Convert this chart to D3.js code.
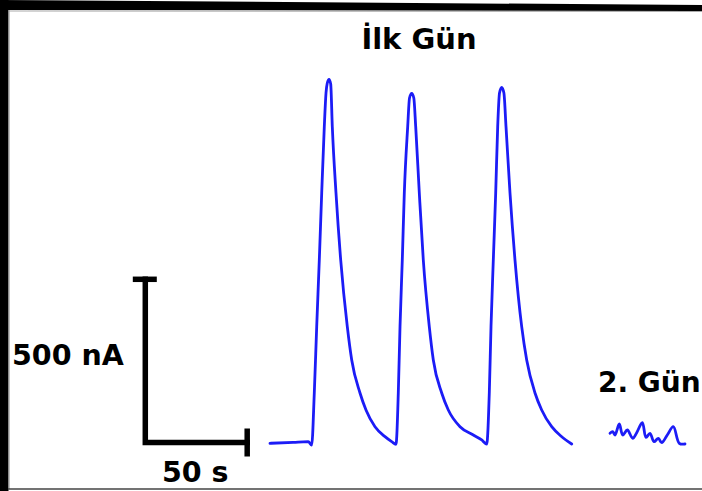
<!DOCTYPE html>
<html>
<head>
<meta charset="utf-8">
<script src="https://cdn.jsdelivr.net/npm/d3@7"></script>
<style>
  html, body { margin: 0; padding: 0; background: #fff; }
  svg { display: block; }
  text { font-family: "DejaVu Sans", sans-serif; font-weight: bold; fill: #000; }
</style>
</head>
<body>
<svg id="chart" width="702" height="491"></svg>
<script>
// Recording on day one: time (s) and current (nA)
const day1Time = [61.19, 72.62, 79.98, 81.65, 82.92, 84.10, 85.38, 86.56, 87.83, 88.67, 89.30, 90.14, 90.97,
  91.76, 93.57, 95.88, 99.12, 101.28, 105.35, 108.29, 112.71, 117.62, 120.90, 123.01,
  124.14, 124.98, 126.10, 127.09, 128.75, 129.64, 130.72, 131.75, 132.68, 134.45, 136.41, 139.35, 141.32,
  145.44, 148.68, 154.42, 160.94, 165.06, 167.52,
  168.79, 169.63, 170.76, 171.93, 172.91, 173.80, 174.88, 175.96, 176.99, 178.95, 181.40, 184.69, 187.14,
  191.22, 194.50, 199.41, 204.32, 209.22];
const day1Current = [-2.5, 0.6, 2.5, -7.7, 151.7, 354.8, 559.1, 764.4, 967.5, 1070.8, 1101.4, 1112.7, 1098.3,
  967.5, 764.4, 559.1, 354.8, 252.8, 151.7, 99.6, 48.4, 17.8, 2.5, -5.5,
  151.7, 354.8, 559.1, 764.4, 967.5, 1055.5, 1069.9, 1055.5, 967.5, 764.4, 559.1, 354.8, 252.8,
  151.7, 99.6, 48.4, 23.0, 7.7, -4.6,
  151.7, 354.8, 559.1, 764.4, 967.5, 1070.8, 1088.2, 1070.8, 967.5, 764.4, 559.1, 354.8, 252.8,
  151.7, 99.6, 48.4, 17.8, -4.6];

// Recording on day two
const day2Time = [228.02, 229.34, 230.47, 232.58, 234.25, 236.51, 239.16, 241.12, 243.87, 245.68,
  247.64, 249.61, 251.72, 253.39, 256.13, 259.08, 262.02, 264.82];
const day2Current = [28.2, 33.1, 23.0, 56.7, 23.0, 38.3, 12.9, 30.0, 60.7, 15.9,
  28.2, 2.5, 12.9, -0.6, 23.0, 48.4, -2.5, -4.6];

// Scale bar sizes and labels
const scaleBarTime = 50;      // s
const scaleBarCurrent = 500;  // nA
const labels = { title1: "İlk Gün", title2: "2. Gün", current: "500 nA", time: "50 s" };

const svg = d3.select("#chart");
const W = 702, H = 491;

// Scale bar corner sits at t = 0, I = 0
const x = d3.scaleLinear().domain([0, scaleBarTime]).range([145.3, 247.2]);
const y = d3.scaleLinear().domain([0, scaleBarCurrent]).range([442.5, 279.3]);

// Frame: heavy top and left edges, thin bottom edge
svg.append("polygon")
  .attr("points", [[0, 0], [W, 5], [W, 11], [0, 10]].map(p => p.join(",")).join(" "))
  .attr("fill", "#000");
svg.append("rect").attr("x", 0).attr("y", 0).attr("width", 8.5).attr("height", H).attr("fill", "#000");
svg.append("line").attr("x1", 9).attr("x2", W).attr("y1", 11).attr("y2", 11.5)
  .attr("stroke", "#aaa").attr("stroke-width", 1);
svg.append("line").attr("x1", 9.2).attr("x2", 9.2).attr("y1", 10).attr("y2", 489)
  .attr("stroke", "#aaa").attr("stroke-width", 1);
svg.append("line").attr("x1", 8).attr("x2", W).attr("y1", 489).attr("y2", 489)
  .attr("stroke", "#444").attr("stroke-width", 1.5);

// Traces
const line = d3.line()
  .x(d => x(d[0]))
  .y(d => y(d[1]))
  .curve(d3.curveMonotoneX);

const day1 = d3.zip(day1Time, day1Current);
const day2 = d3.zip(day2Time, day2Current);

svg.append("path").datum(day1)
  .attr("d", line)
  .attr("fill", "none").attr("stroke", "#1c1cf6").attr("stroke-width", 2.8)
  .attr("stroke-linejoin", "round").attr("stroke-linecap", "round");

svg.append("path").datum(day2)
  .attr("d", line.curve(d3.curveCatmullRom))
  .attr("fill", "none").attr("stroke", "#1c1cf6").attr("stroke-width", 2.8)
  .attr("stroke-linejoin", "round").attr("stroke-linecap", "round");

// Scale bar
const bar = svg.append("g").attr("stroke", "#000").attr("stroke-width", 5.5).attr("fill", "none");
bar.append("path")
  .attr("d", `M${x(0)},${y(scaleBarCurrent)} V${y(0)} H${x(scaleBarTime)}`)
  .attr("stroke-linejoin", "miter").attr("stroke-linecap", "square");
bar.append("line")
  .attr("x1", x(0) - 12.5).attr("x2", x(0) + 11.5)
  .attr("y1", y(scaleBarCurrent)).attr("y2", y(scaleBarCurrent));
bar.append("line")
  .attr("x1", x(scaleBarTime)).attr("x2", x(scaleBarTime))
  .attr("y1", y(0) - 14).attr("y2", y(0) + 14);

// Labels
svg.append("text").attr("x", 419).attr("y", 49).attr("text-anchor", "middle")
  .attr("font-size", 29).text(labels.title1);
svg.append("text").attr("x", 598).attr("y", 392)
  .attr("font-size", 28).text(labels.title2);
svg.append("text").attr("x", 12).attr("y", 365)
  .attr("font-size", 28.5).text(labels.current);
svg.append("text").attr("x", 162).attr("y", 482)
  .attr("font-size", 28.5).text(labels.time);
</script>
</body>
</html>
